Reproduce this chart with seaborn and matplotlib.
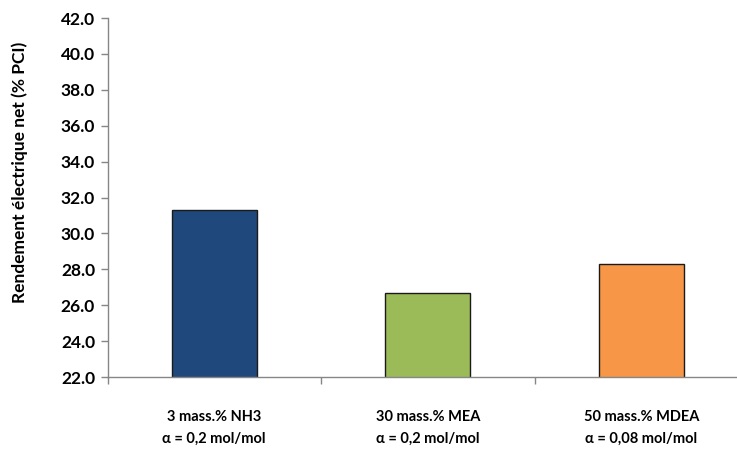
import matplotlib
matplotlib.use("Agg")
import matplotlib.pyplot as plt
import seaborn as sns
import pandas as pd
import numpy as np

categories = ["3 mass.% NH3\nα = 0,2 mol/mol",
              "30 mass.% MEA\nα = 0,2 mol/mol",
              "50 mass.% MDEA\nα = 0,08 mol/mol"]
values = [31.3, 26.7, 28.3]
colors = ["#1F497D", "#9BBB59", "#F79646"]
y_ticks = [22.0, 24.0, 26.0, 28.0, 30.0, 32.0, 34.0, 36.0, 38.0, 40.0, 42.0]
y_label = "Rendement électrique net (% PCI)"

sns.set_theme(style="white")
plt.rcParams['font.family'] = ['Lato', 'DejaVu Sans']

df = pd.DataFrame({"cat": categories, "val": values})

fig = plt.figure(figsize=(7.37, 4.5), dpi=100)
ax = fig.add_axes([107.5 / 737, (450 - 377) / 450, (748 - 107.5) / 737, (377 - 18) / 450])

sns.barplot(data=df, x="cat", y="val", hue="cat", palette=colors, width=0.4,
            edgecolor="#1a1a1a", linewidth=1.0, legend=False, ax=ax, saturation=1)

ax.set_ylim(22, 42)
ax.set_xlim(-0.5, 2.5)
ax.set_yticks(y_ticks)
ax.set_yticklabels([f"{t:.1f}" for t in y_ticks], fontsize=12.5, fontweight="bold", color="black")
ax.set_xticks(range(len(categories)))
ax.set_xticklabels(categories, fontsize=10.5, fontweight="bold", linespacing=1.7, color="black")
ax.set_xticks([-0.5, 0.5, 1.5], minor=True)
ax.tick_params(axis="x", which="major", length=0, pad=24)
ax.tick_params(axis="x", which="minor", length=5, width=1, color="#868686", direction="out", bottom=True)
ax.tick_params(axis="y", which="major", length=5, width=1, color="#868686", direction="out", left=True, pad=4)
ax.set_xlabel("")
ax.set_ylabel("")

for s in ["top", "right"]:
    ax.spines[s].set_visible(False)
for s in ["left", "bottom"]:
    ax.spines[s].set_color("#868686")
    ax.spines[s].set_linewidth(1.0)

fig.text(20 / 737, 1 - 172 / 450, y_label, rotation=90, ha="center", va="center",
         fontsize=12.5, fontweight="bold", color="black")

fig.savefig("out.png", dpi=100)
